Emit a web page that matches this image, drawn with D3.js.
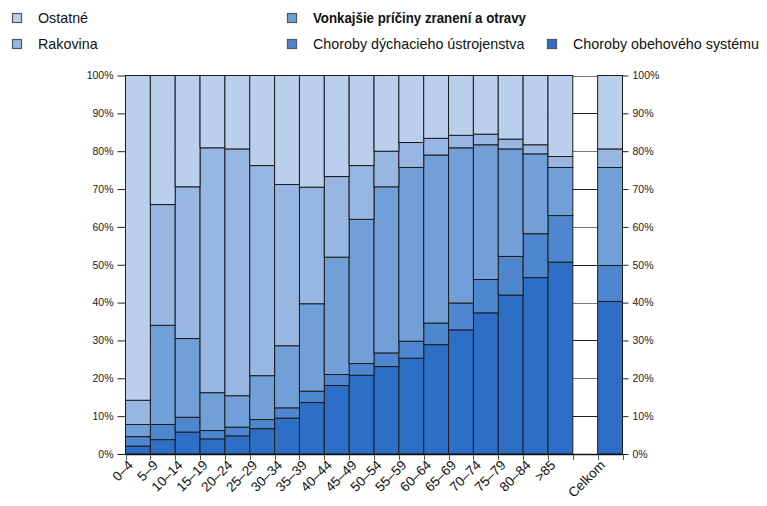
<!DOCTYPE html>
<html><head><meta charset="utf-8">
<script src="https://cdn.jsdelivr.net/npm/d3@7"></script>
<style>body{margin:0;background:#fff}svg{display:block;font-family:"Liberation Sans",Arial,sans-serif}</style>
</head><body><svg id="c" width="767" height="506"></svg>
<script>
const categories = ["0–4","5–9","10–14","15–19","20–24","25–29","30–34","35–39","40–44","45–49","50–54","55–59","60–64","65–69","70–74","75–79","80–84",">85","Celkom"];
// segment shares (%) bottom to top
const obehove  = [2.1,3.8,5.8,4.0,4.8,6.7,9.5,13.6,18.1,20.8,23.1,25.3,28.9,32.8,37.3,42.0,46.6,50.7,40.3];
const dychacie = [2.5,4.0,3.9,2.2,2.3,2.4,2.7,3.0,2.9,3.1,3.6,4.5,5.7,7.1,8.8,10.2,11.6,12.3,9.5];
const vonkajsie= [3.2,26.2,20.8,10.0,8.3,11.6,16.4,23.1,31.0,38.1,43.9,45.9,44.4,41.0,35.6,28.4,21.1,12.7,25.9];
const rakovina = [6.4,31.9,40.1,64.7,65.2,55.5,42.6,30.8,21.3,14.2,9.4,6.6,4.4,3.3,2.8,2.6,2.4,2.9,4.9];
const ostatne  = [85.8,34.1,29.4,19.1,19.4,23.8,28.8,29.5,26.7,23.8,20.0,17.7,16.6,15.8,15.5,16.8,18.3,21.4,19.4];
const seriesNames = ["Choroby obehového systému","Choroby dýchacieho ústrojenstva","Vonkajšie príčiny zranení a otravy","Rakovina","Ostatné"];
const colors = ["#2d6fc7","#4e86d0","#719fd8","#97b6e2","#bacfec"];
const yTicks = [0,10,20,30,40,50,60,70,80,90,100];

const svg = d3.select("#c");
const slots = [...categories.slice(0,18), " ", "Celkom"];
const x = d3.scaleBand().domain(slots).range([125.5, 622.5]).padding(0);
const y = d3.scaleLinear().domain([0,100]).range([454, 75.5]);

const keys = ["obehove","dychacie","vonkajsie","rakovina","ostatne"];
const vals = [obehove,dychacie,vonkajsie,rakovina,ostatne];
const rows = categories.map((c,i)=>{const r={cat:c}; keys.forEach((k,j)=>r[k]=vals[j][i]); return r;});
const stack = d3.stack().keys(keys)(rows);

// gridlines (visible in empty slot)
svg.append("g").selectAll("line").data(yTicks.filter(t=>t>0)).join("line")
  .attr("x1",125.5).attr("x2",622.5).attr("y1",d=>Math.round(y(d))+0.5).attr("y2",d=>Math.round(y(d))+0.5)
  .attr("stroke",(d,i)=>i%2?"#777":"#222").attr("stroke-width",1);

// bars
const g = svg.append("g");
stack.forEach((layer,li)=>{
  g.append("g").selectAll("rect").data(layer).join("rect")
    .attr("x",d=>x(d.data.cat)).attr("width",x.bandwidth())
    .attr("y",d=>y(d[1])).attr("height",d=>y(d[0])-y(d[1]))
    .attr("fill",colors[li]).attr("stroke","#1c1c1c").attr("stroke-width",1);
});

// axes
const left = svg.append("g").attr("transform","translate(125.5,0)")
  .call(d3.axisLeft(y).tickValues(yTicks).tickFormat(d=>d+"%").tickSize(8).tickPadding(4));
const right = svg.append("g").attr("transform","translate(622.5,0)")
  .call(d3.axisRight(y).tickValues(yTicks).tickFormat(d=>d+"%").tickSize(6).tickPadding(4));
[left,right].forEach(a=>{a.select(".domain").remove();a.selectAll("line").attr("stroke","#222");a.selectAll("text").attr("font-size",10.5).attr("fill","#222").attr("font-family","Liberation Sans, Arial, sans-serif");});

// bottom axis: ticks at slot boundaries
const bottom = svg.append("g");
bottom.append("line").attr("x1",125.5).attr("x2",622.5).attr("y1",454.5).attr("y2",454.5).attr("stroke","#111").attr("stroke-width",1.5);
const bounds = slots.map(s=>x(s)).concat([x(slots[slots.length-1])+x.bandwidth()]);
bottom.selectAll("line.t").data(bounds).join("line").attr("class","t")
  .attr("x1",d=>Math.round(d)+0.5).attr("x2",d=>Math.round(d)+0.5).attr("y1",455).attr("y2",460).attr("stroke","#555");
bottom.selectAll("text").data(slots.filter(s=>s.trim()!=="")).join("text")
  .attr("transform",d=>`translate(${x(d)+x.bandwidth()/2-4},${466}) rotate(-45)`)
  .attr("text-anchor","end").attr("font-size",13.5).attr("fill","#111").text(d=>d);

// legend
const legendPos = [[12,18,"Ostatné",4],[12,44,"Rakovina",3],[287,18,"Vonkajšie príčiny zranení a otravy",2],[287,44,"Choroby dýchacieho ústrojenstva",1],[547,44,"Choroby obehového systému",0]];
const lg = svg.append("g");
legendPos.forEach(([lx,ly,t,ci])=>{
  lg.append("rect").attr("x",lx+0.5).attr("y",ly-4.5).attr("width",9).attr("height",9).attr("fill",colors[ci]).attr("stroke","#555").attr("stroke-width",1.2);
  const tx = lg.append("text").attr("x",lx+26).attr("y",ly+5).attr("font-size",14.3).attr("fill","#111").text(t);
  if(ci===2){tx.attr("font-weight","bold").attr("textLength",213).attr("lengthAdjust","spacingAndGlyphs");}
});
</script></body></html>
